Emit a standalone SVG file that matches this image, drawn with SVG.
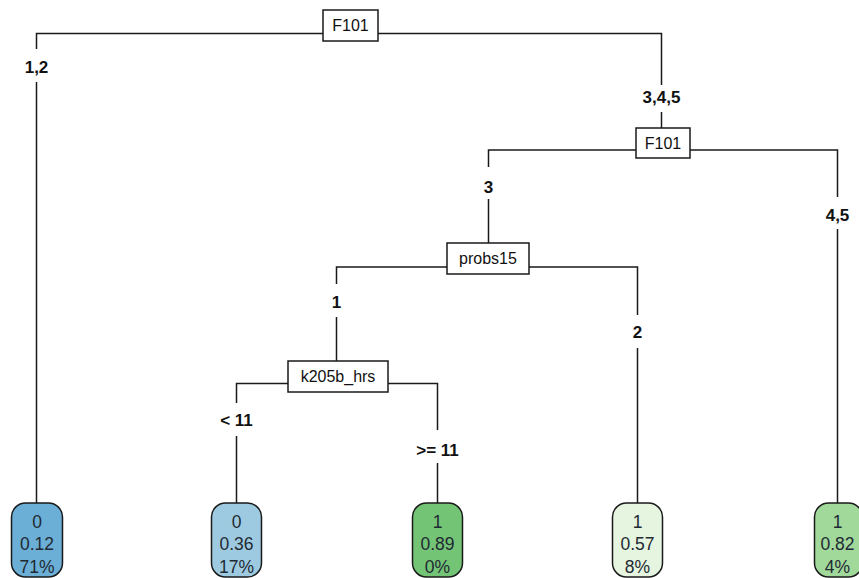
<svg xmlns="http://www.w3.org/2000/svg" width="859" height="578" viewBox="0 0 859 578">
<style>
.bg{fill:#fff}
.ln{stroke:#1a1a1a;stroke-width:1.5;fill:none}
.box{fill:#fff;stroke:#1a1a1a;stroke-width:1.5}
.bt{font-family:"Liberation Sans",Arial,sans-serif;font-size:16px;fill:#111;text-anchor:middle}
.lb{font-family:"Liberation Sans",Arial,sans-serif;font-size:17px;font-weight:bold;fill:#111;text-anchor:middle}
.leaf{stroke:#1a1a1a;stroke-width:1.5}
.lt{font-family:"Liberation Sans",Arial,sans-serif;font-size:17.5px;fill:#1f2a33;text-anchor:middle}
</style>
<rect class="bg" x="0" y="0" width="859" height="578"/>
<g id="connectors">
<path class="ln" d="M323 33.5H36.5V49M36.5 82V503"/>
<path class="ln" d="M378 33.5H661.5V85M661.5 112V128"/>
<path class="ln" d="M636 150H488.5V167M488.5 199V243"/>
<path class="ln" d="M690 150H837.5V197M837.5 229V503"/>
<path class="ln" d="M447 267H336.5V284M336.5 317V361"/>
<path class="ln" d="M529 267H637.5V315M637.5 348V503"/>
<path class="ln" d="M288 383.5H236.5V403M236.5 436V503"/>
<path class="ln" d="M388 383.5H437.5V430M437.5 463V503"/>
<text class="lb" x="36.5" y="73">1,2</text>
<text class="lb" x="661.5" y="103">3,4,5</text>
<text class="lb" x="488.5" y="193">3</text>
<text class="lb" x="837.5" y="221">4,5</text>
<text class="lb" x="336.5" y="308">1</text>
<text class="lb" x="637.5" y="338">2</text>
<text class="lb" x="236.5" y="426">&lt; 11</text>
<text class="lb" x="437.5" y="456">&gt;= 11</text>
</g>
<g id="n1">
<rect class="box" x="323" y="10" width="55" height="31"/>
<text class="bt" x="350.5" y="31">F101</text>
</g>
<g id="n3">
<rect class="box" x="636" y="128" width="54" height="30"/>
<text class="bt" x="663" y="149">F101</text>
</g>
<g id="n6">
<rect class="box" x="447" y="243" width="82" height="31"/>
<text class="bt" x="488" y="264">probs15</text>
</g>
<g id="n12">
<rect class="box" x="288" y="361" width="100" height="31"/>
<text class="bt" x="338" y="382">k205b_hrs</text>
</g>
<g id="leaf2">
<rect class="leaf" x="11.5" y="503" width="51" height="74" rx="14" ry="14" fill="#6baed6"/>
<text class="lt" x="37" y="528">0</text>
<text class="lt" x="37" y="550">0.12</text>
<text class="lt" x="37" y="572.5">71%</text>
</g>
<g id="leaf24">
<rect class="leaf" x="211.5" y="503" width="50" height="74" rx="14" ry="14" fill="#9ecae1"/>
<text class="lt" x="236.5" y="528">0</text>
<text class="lt" x="236.5" y="550">0.36</text>
<text class="lt" x="236.5" y="572.5">17%</text>
</g>
<g id="leaf25">
<rect class="leaf" x="412.5" y="503" width="50" height="74" rx="14" ry="14" fill="#74c476"/>
<text class="lt" x="437.5" y="528">1</text>
<text class="lt" x="437.5" y="550">0.89</text>
<text class="lt" x="437.5" y="572.5">0%</text>
</g>
<g id="leaf13">
<rect class="leaf" x="612.5" y="503" width="50" height="74" rx="14" ry="14" fill="#e5f5e0"/>
<text class="lt" x="637.5" y="528">1</text>
<text class="lt" x="637.5" y="550">0.57</text>
<text class="lt" x="637.5" y="572.5">8%</text>
</g>
<g id="leaf7">
<rect class="leaf" x="814.5" y="503" width="48" height="74" rx="14" ry="14" fill="#a1d99b"/>
<text class="lt" x="837.5" y="528">1</text>
<text class="lt" x="837.5" y="550">0.82</text>
<text class="lt" x="837.5" y="572.5">4%</text>
</g>
</svg>
